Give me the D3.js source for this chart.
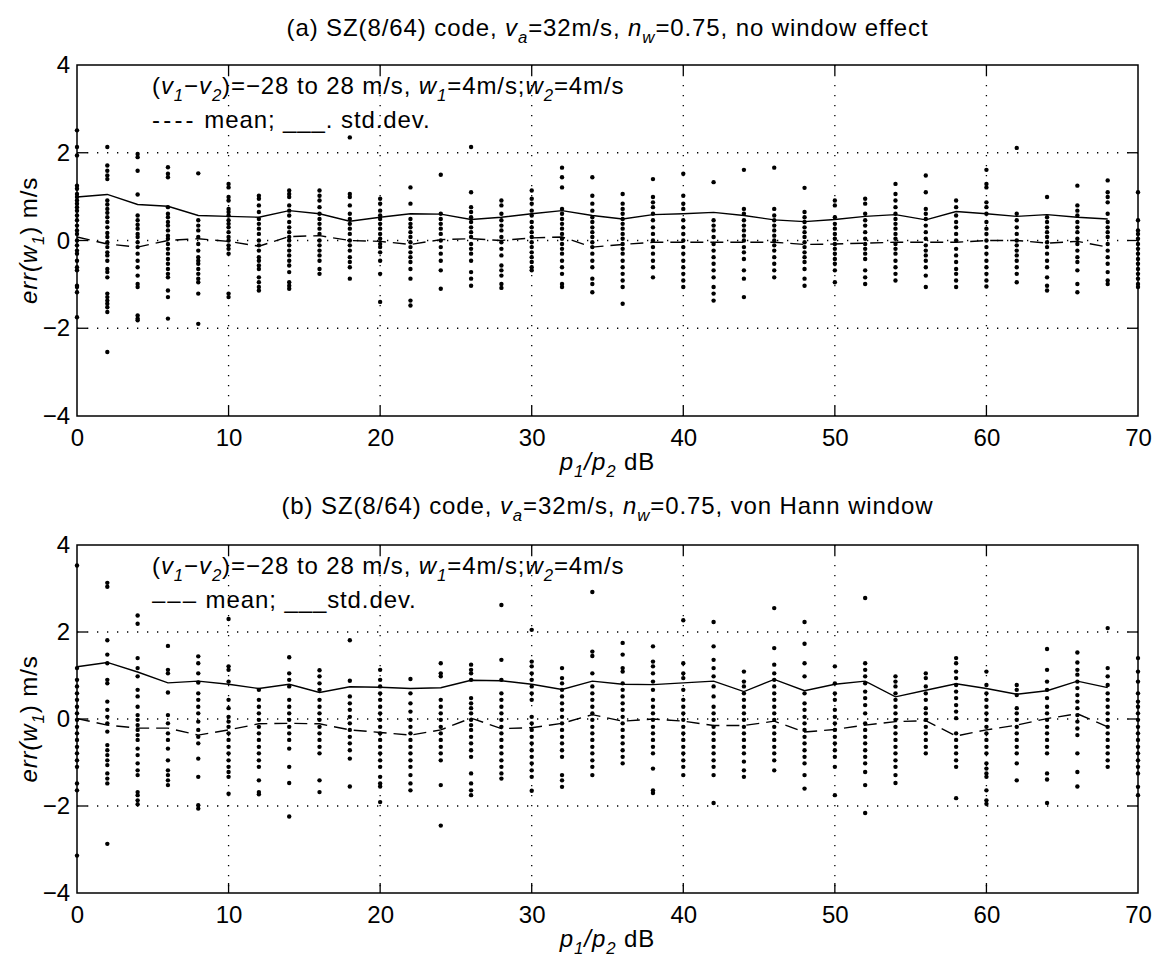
<!DOCTYPE html>
<html>
<head>
<meta charset="utf-8">
<script src="https://cdn.jsdelivr.net/npm/d3@7/dist/d3.min.js"></script>
<style>
  body { margin: 0; background: #fff; }
  svg { font-family: "Liberation Sans", Arial, Helvetica, sans-serif; }
</style>
</head>
<body>
<script>
// p1/p2 (dB) positions of the columns
const xVals = [0, 2, 4, 6, 8, 10, 12, 14, 16, 18, 20, 22, 24, 26, 28, 30, 32, 34,
               36, 38, 40, 42, 44, 46, 48, 50, 52, 54, 56, 58, 60, 62, 64, 66, 68, 70];
const xTicks = [0, 10, 20, 30, 40, 50, 60, 70];
const yTicks = [-4, -2, 0, 2, 4];

// (a) no window effect: mean / std.dev. curves (0..68 dB)
const meanA = [0.08, -0.08, -0.15, 0, 0.04, -0.02, -0.13, 0.09, 0.11, 0, -0.02, -0.09, 0.02, 0.04,
               0, 0.06, 0.08, -0.15, -0.09, -0.04, -0.04, -0.04, -0.04, -0.04, -0.09,
               -0.08, -0.06, -0.04, -0.04, -0.04, 0, 0, -0.06, -0.02, -0.15];
const stdA = [0.99, 1.05, 0.82, 0.78, 0.57, 0.55, 0.53, 0.68, 0.61, 0.44, 0.53, 0.61, 0.6, 0.48,
              0.53, 0.61, 0.68, 0.57, 0.49, 0.59, 0.61, 0.64, 0.57, 0.47, 0.43,
              0.48, 0.55, 0.59, 0.47, 0.66, 0.61, 0.55, 0.59, 0.53, 0.49];

// (b) von Hann window: mean / std.dev. curves (0..68 dB)
const meanB = [0.01, -0.14, -0.21, -0.21, -0.37, -0.25, -0.11, -0.1, -0.11, -0.25, -0.31, -0.37, -0.25, 0.02,
               -0.22, -0.2, -0.1, 0.1, -0.05, 0, -0.05, -0.15, -0.15, -0.05, -0.3,
               -0.24, -0.14, -0.06, -0.04, -0.39, -0.25, -0.14, 0.01, 0.12, -0.18];
const stdB = [1.2, 1.3, 1.08, 0.83, 0.87, 0.8, 0.7, 0.8, 0.61, 0.74, 0.73, 0.7, 0.72, 0.89,
              0.88, 0.8, 0.68, 0.87, 0.8, 0.79, 0.83, 0.87, 0.63, 0.91, 0.65,
              0.8, 0.87, 0.51, 0.66, 0.81, 0.7, 0.57, 0.65, 0.87, 0.72];

// (a) individual err(w1) estimates, one list per column of xVals
const ptsA = [
  [2.51, 2.13, 1.94, 1.25, 1.18, 1.06, 0.99, 0.91, 0.84, 0.76, 0.68, 0.57, 0.46, 0.34, 0.23, 0.15, 0, -0.11, -0.23, -0.3, -0.46, -0.61, -0.68, -1.03, -1.06, -1.18, -1.75],
  [2.13, 1.71, 1.59, 1.48, 1.4, 0.91, 0.82, 0.72, 0.63, 0.53, 0.42, 0.3, 0.17, 0.08, -0.04, -0.15, -0.27, -0.34, -0.46, -0.65, -0.72, -0.84, -1.21, -1.29, -1.37, -1.44, -1.52, -1.63, -2.54],
  [1.97, 1.9, 1.59, 1.05, 0.57, 0.46, 0.36, 0.27, 0.15, 0.08, -0.04, -0.15, -0.3, -0.46, -0.61, -0.8, -0.99, -1.06, -1.71, -1.78, -1.82],
  [1.67, 1.52, 1.44, 0.76, 0.61, 0.53, 0.42, 0.34, 0.23, 0.11, 0.04, -0.08, -0.19, -0.3, -0.42, -0.53, -0.65, -0.76, -0.84, -1.14, -1.29, -1.78],
  [1.53, 0.46, 0.34, 0.23, 0.08, -0.08, -0.23, -0.38, -0.46, -0.53, -0.65, -0.76, -0.87, -0.95, -1.21, -1.9],
  [1.29, 1.21, 0.99, 0.91, 0.72, 0.65, 0.57, 0.46, 0.38, 0.3, 0.19, 0.08, 0, -0.11, -0.19, -0.3, -1.21, -1.29],
  [1.02, 0.95, 0.8, 0.65, 0.49, 0.38, 0.27, 0.15, 0, -0.11, -0.23, -0.38, -0.46, -0.57, -0.65, -0.84, -0.95, -1.06, -1.14],
  [1.14, 1.06, 0.99, 0.8, 0.68, 0.57, 0.42, 0.3, 0.19, 0.08, 0, -0.11, -0.23, -0.34, -0.46, -0.57, -0.72, -0.95, -1.03, -1.1],
  [1.14, 1.02, 0.91, 0.76, 0.61, 0.49, 0.38, 0.27, 0.15, 0, -0.11, -0.23, -0.34, -0.46, -0.65, -0.76],
  [2.35, 1.06, 0.99, 0.8, 0.61, 0.49, 0.38, 0.27, 0.15, 0, -0.11, -0.23, -0.38, -0.49, -0.61, -0.87],
  [0.95, 0.84, 0.68, 0.57, 0.49, 0.38, 0.27, 0.15, 0.04, -0.08, -0.15, -0.27, -0.46, -0.76, -1.4],
  [1.21, 0.84, 0.49, 0.38, 0.3, 0.19, 0.08, -0.04, -0.15, -0.27, -0.38, -0.49, -0.65, -0.87, -1.37, -1.48],
  [1.5, 0.61, 0.49, 0.38, 0.27, 0.15, 0, -0.15, -0.3, -0.46, -0.68, -1.1],
  [2.13, 1.1, 0.76, 0.65, 0.53, 0.42, 0.3, 0.19, 0.08, -0.08, -0.19, -0.3, -0.46, -0.72, -0.87, -1.03],
  [0.91, 0.8, 0.61, 0.46, 0.34, 0.23, 0.08, -0.04, -0.19, -0.34, -0.57, -0.68, -0.8, -0.99, -1.08],
  [1.14, 0.95, 0.84, 0.68, 0.57, 0.42, 0.3, 0.19, 0.08, -0.04, -0.15, -0.27, -0.38, -0.49, -0.61, -0.68],
  [1.66, 1.44, 1.21, 0.72, 0.61, 0.49, 0.38, 0.27, 0.15, 0.04, -0.08, -0.19, -0.3, -0.46, -0.61, -0.76, -0.99, -1.06],
  [1.44, 1.02, 0.84, 0.68, 0.53, 0.42, 0.3, 0.19, 0.08, -0.04, -0.15, -0.3, -0.46, -0.61, -0.87, -0.99, -1.18],
  [1.06, 0.84, 0.72, 0.61, 0.49, 0.38, 0.27, 0.15, 0.04, -0.08, -0.19, -0.3, -0.46, -0.61, -0.76, -0.91, -1.06, -1.44],
  [1.4, 0.99, 0.87, 0.76, 0.61, 0.46, 0.3, 0.15, 0, -0.15, -0.3, -0.46, -0.61, -0.84],
  [1.52, 1.02, 0.84, 0.72, 0.46, 0.3, 0.15, 0, -0.15, -0.3, -0.46, -0.61, -0.76, -0.91, -1.06],
  [1.33, 0.46, 0.34, 0.23, 0.08, -0.08, -0.23, -0.38, -0.53, -0.68, -0.84, -1.06, -1.21, -1.37],
  [1.61, 0.72, 0.61, 0.46, 0.34, 0.23, 0.11, 0, -0.15, -0.27, -0.42, -0.68, -0.87, -1.29],
  [1.66, 0.72, 0.57, 0.46, 0.34, 0.23, 0.11, 0, -0.11, -0.23, -0.38, -0.53, -0.68, -0.84],
  [1.2, 0.65, 0.53, 0.42, 0.3, 0.19, 0.08, -0.04, -0.15, -0.27, -0.38, -0.49, -0.65, -0.87, -1.03],
  [0.91, 0.8, 0.53, 0.38, 0.27, 0.15, 0.04, -0.08, -0.19, -0.3, -0.42, -0.53, -0.68, -0.95],
  [0.95, 0.84, 0.61, 0.46, 0.34, 0.19, 0.04, -0.08, -0.19, -0.3, -0.42, -0.68, -0.84, -0.99],
  [1.29, 1.06, 0.91, 0.76, 0.61, 0.49, 0.38, 0.27, 0.15, 0.04, -0.08, -0.19, -0.3, -0.46, -0.61, -0.76, -0.91],
  [1.48, 1.1, 0.72, 0.61, 0.49, 0.34, 0.19, 0.04, -0.11, -0.23, -0.34, -0.46, -0.61, -0.8, -1.06],
  [0.91, 0.76, 0.57, 0.42, 0.3, 0.15, 0, -0.19, -0.34, -0.49, -0.65, -0.76, -0.91, -1.06],
  [1.61, 1.29, 1.21, 0.87, 0.76, 0.61, 0.42, 0.27, 0.15, 0, -0.15, -0.3, -0.46, -0.61, -0.76, -0.91, -1.05],
  [2.11, 0.61, 0.46, 0.3, 0.15, 0, -0.11, -0.23, -0.34, -0.46, -0.61, -0.76, -0.95],
  [0.99, 0.53, 0.42, 0.3, 0.19, 0.08, -0.04, -0.15, -0.3, -0.46, -0.61, -0.84, -1.03, -1.14],
  [1.25, 0.8, 0.68, 0.57, 0.42, 0.3, 0.19, 0.04, -0.08, -0.23, -0.38, -0.49, -0.68, -0.99, -1.18],
  [1.37, 1.1, 0.99, 0.87, 0.61, 0.42, 0.3, 0.19, 0.08, -0.08, -0.23, -0.38, -0.53, -0.72, -0.91, -0.99],
  [1.1, 0.46, 0.23, 0.15, 0.04, -0.08, -0.19, -0.3, -0.42, -0.53, -0.65, -0.76, -0.87, -0.99, -1.06]
];

// (b) individual err(w1) estimates, one list per column of xVals
const ptsB = [
  [3.53, 1.17, 0.9, 0.75, 0.59, 0.44, 0.28, 0.13, -0.02, -0.18, -0.33, -0.48, -0.64, -0.79, -0.95, -1.1, -1.48, -1.64, -3.14],
  [3.13, 3.04, 1.81, 1.48, 1.28, 0.9, 0.82, 0.4, 0.21, 0.05, -0.1, -0.29, -0.6, -0.72, -0.83, -0.95, -1.06, -1.25, -1.37, -1.48, -2.87],
  [2.38, 2.19, 1.4, 1.17, 0.98, 0.67, 0.52, 0.28, 0.09, -0.02, -0.14, -0.25, -0.37, -0.48, -0.68, -0.83, -1.02, -1.18, -1.29, -1.68, -1.75, -1.87, -1.96],
  [1.68, 1.13, 1.05, 0.61, 0.09, -0.1, -0.33, -0.48, -0.68, -0.95, -1.18, -1.29, -1.41, -1.52],
  [1.44, 1.28, 1.05, 0.84, 0.59, 0.44, 0.28, 0.13, -0.06, -0.25, -0.41, -0.56, -0.91, -1.33, -1.98, -2.06],
  [2.3, 1.21, 1.13, 0.86, 0.44, 0.25, 0.05, -0.06, -0.18, -0.33, -0.48, -0.64, -0.79, -0.95, -1.1, -1.22, -1.33, -1.72],
  [0.67, 0.44, 0.28, 0.13, -0.02, -0.18, -0.33, -0.48, -0.64, -0.79, -0.95, -1.1, -1.41, -1.68, -1.73],
  [1.42, 1.05, 0.9, 0.75, 0.44, 0.28, 0.13, -0.02, -0.18, -0.33, -0.48, -0.68, -1.1, -1.47, -2.24],
  [1.12, 0.98, 0.82, 0.67, 0.44, 0.28, 0.13, -0.02, -0.18, -0.33, -0.48, -0.64, -0.79, -1.41, -1.68],
  [1.81, 0.88, 0.52, 0.36, 0.21, 0.05, -0.1, -0.25, -0.41, -0.56, -0.72, -0.91, -1.55],
  [1.13, 0.9, 0.75, 0.59, 0.44, 0.28, 0.13, -0.02, -0.18, -0.33, -0.48, -0.64, -0.79, -0.95, -1.1, -1.33, -1.48, -1.55, -1.91],
  [0.92, 0.59, 0.36, 0.17, -0.02, -0.18, -0.33, -0.48, -0.64, -0.79, -0.95, -1.1, -1.29, -1.48, -1.64],
  [1.28, 1.05, 0.98, 0.44, 0.28, 0.13, -0.02, -0.18, -0.33, -0.48, -0.64, -0.79, -0.95, -1.52, -2.45],
  [1.25, 1.13, 1.05, 0.9, 0.48, 0.36, 0.25, 0.13, -0.02, -0.14, -0.25, -0.41, -0.56, -0.72, -0.87, -1.25, -1.48, -1.64, -1.75],
  [2.62, 1.36, 0.9, 0.59, 0.44, 0.28, 0.13, -0.02, -0.18, -0.33, -0.48, -0.64, -0.79, -0.95, -1.1, -1.25, -1.37],
  [2.05, 1.32, 1.21, 1.05, 0.9, 0.75, 0.59, 0.44, 0.05, -0.1, -0.25, -0.41, -0.56, -0.72, -0.87, -1.02, -1.18, -1.33, -1.65],
  [1.17, 0.94, 0.82, 0.67, 0.52, 0.36, 0.21, 0.05, -0.1, -0.25, -0.41, -0.56, -0.72, -0.87, -1.29, -1.41, -1.56],
  [2.92, 1.55, 1.45, 1.05, 0.75, 0.59, 0.44, 0.28, 0.13, -0.02, -0.18, -0.33, -0.48, -0.64, -0.79, -0.95, -1.1, -1.29],
  [1.75, 1.48, 1.17, 1.09, 0.82, 0.67, 0.52, 0.36, 0.21, 0.05, -0.1, -0.25, -0.41, -0.56, -0.72, -0.87, -1.02],
  [1.67, 1.32, 1.21, 1.05, 0.86, 0.67, 0.44, 0.28, 0.13, -0.02, -0.18, -0.33, -0.48, -0.64, -0.79, -1.14, -1.64, -1.7],
  [2.27, 1.28, 1.05, 0.94, 0.67, 0.44, 0.28, 0.13, -0.02, -0.18, -0.33, -0.48, -0.64, -0.79, -0.95, -1.1, -1.29],
  [2.23, 1.67, 1.36, 1.17, 0.98, 0.75, 0.52, 0.28, 0.13, -0.02, -0.18, -0.33, -0.48, -0.64, -0.79, -0.95, -1.1, -1.29, -1.93],
  [1.09, 0.86, 0.75, 0.59, 0.44, 0.28, 0.13, -0.02, -0.18, -0.33, -0.48, -0.64, -0.79, -0.98, -1.18, -1.33],
  [2.55, 1.63, 1.25, 1.05, 0.9, 0.75, 0.59, 0.44, 0.28, 0.13, -0.02, -0.18, -0.33, -0.48, -0.64, -0.79, -0.95, -1.18],
  [2.23, 1.73, 1.28, 0.98, 0.59, 0.36, 0.21, 0.05, -0.1, -0.25, -0.41, -0.56, -0.72, -0.87, -1.02, -1.29, -1.6],
  [1.21, 0.82, 0.59, 0.44, 0.21, 0.05, -0.1, -0.25, -0.41, -0.56, -0.72, -0.87, -1.1, -1.75],
  [2.78, 1.28, 1.13, 0.98, 0.82, 0.63, 0.48, 0.32, 0.13, -0.1, -0.25, -0.41, -0.56, -0.72, -0.87, -1.02, -1.22, -1.52, -2.16],
  [0.98, 0.86, 0.75, 0.59, 0.44, 0.28, 0.13, -0.02, -0.18, -0.33, -0.48, -0.64, -0.79, -0.95, -1.1, -1.29, -1.47],
  [1.05, 0.94, 0.75, 0.59, 0.44, 0.25, 0.13, -0.02, -0.18, -0.33, -0.48, -0.64, -0.79],
  [1.4, 1.28, 1.09, 0.94, 0.78, 0.63, 0.48, 0.32, 0.17, 0.02, -0.33, -0.48, -0.64, -0.79, -0.95, -1.1, -1.82],
  [1.09, 0.78, 0.59, 0.44, 0.28, 0.13, -0.02, -0.18, -0.33, -0.48, -0.64, -0.79, -1.02, -1.14, -1.25, -1.33, -1.64, -1.87, -1.95],
  [0.78, 0.67, 0.55, 0.25, 0.13, -0.02, -0.18, -0.33, -0.48, -0.64, -0.79, -1.02, -1.41],
  [1.61, 1.13, 0.86, 0.67, 0.48, 0.28, 0.13, -0.02, -0.18, -0.33, -0.48, -0.64, -0.79, -1.25, -1.39, -1.93],
  [1.53, 1.3, 1.13, 1.02, 0.86, 0.71, 0.55, 0.4, 0.25, 0.09, -0.06, -0.22, -0.37, -0.79, -1.22, -1.55],
  [2.09, 1.17, 0.98, 0.78, 0.59, 0.44, 0.28, 0.13, -0.02, -0.18, -0.33, -0.48, -0.64, -0.79, -0.95, -1.1],
  [1.4, 1.09, 0.86, 0.59, 0.4, 0.28, 0.13, -0.02, -0.18, -0.33, -0.48, -0.64, -0.79, -0.95, -1.1, -1.25, -1.56, -1.75]
];

// text pieces: [text, flags, letter spacing]  flags: i = italic, s = subscript
const titleA = [["(a) SZ(8/64) code, "], ["v", "i"], ["a", "is"], ["=32m/s, "], ["n", "i"], ["w", "is"], ["=0.75, no window effect"]];
const titleB = [["(b) SZ(8/64) code, "], ["v", "i"], ["a", "is"], ["=32m/s, "], ["n", "i"], ["w", "is"], ["=0.75, von Hann window"]];
const noteLine1 = [["("], ["v", "i"], ["1", "is"], ["\u2212"], ["v", "i"], ["2", "is"], [")=\u221228 to 28 m/s, "],
                   ["w", "i"], ["1", "is"], ["=4m/s;"], ["w", "i"], ["2", "is"], ["=4m/s"]];
const noteLine2A = [["----", "", 3.2], [" mean; ___. std.dev."]];
const noteLine2B = [["\u2013\u2013\u2013", "", 2], [" mean; ___std.dev."]];
const xLabel = [["p", "i"], ["1", "is"], ["/", "i"], ["p", "i"], ["2", "is"], [" dB"]];
const yLabel = [["err(w", "i"], ["1", "is"], [") m/s"]];

const width = 1154, height = 968;
const fs = 24;       // label font size
const ls = 0.9;      // letter spacing of the scanned lettering

const svg = d3.select("body").append("svg")
    .attr("width", width)
    .attr("height", height);

const x = d3.scaleLinear().domain([0, 70]).range([77, 1138]);

// write a text made of pieces, with italic and subscript parts
function rich(textSel, pieces, size) {
    let shift = 0;
    textSel.attr("font-size", size).attr("letter-spacing", ls);
    pieces.forEach(p => {
        const flags = p[1] || "";
        const ts = textSel.append("tspan").text(p[0]);
        const want = flags.includes("s") ? size * 0.3 : 0;
        if (want !== shift) { ts.attr("dy", want - shift); shift = want; }
        if (flags.includes("i")) ts.attr("font-style", "italic");
        if (flags.includes("s")) ts.attr("font-size", size * 0.7);
        if (p[2] !== undefined) ts.attr("letter-spacing", p[2]);
    });
    return textSel;
}

function drawPanel(cfg) {
    const y = d3.scaleLinear().domain([-4, 4]).range([cfg.bottom, cfg.top]);
    const g = svg.append("g");
    const [x0, x1] = x.range();

    // title
    rich(g.append("text")
        .attr("x", (x0 + x1) / 2)
        .attr("y", cfg.titleY)
        .attr("text-anchor", "middle"), cfg.title, fs);

    // dotted grid
    const grid = g.append("g")
        .attr("stroke", "#000")
        .attr("stroke-width", 1.3)
        .attr("stroke-dasharray", "1.3,8.7");
    grid.selectAll("line.gx")
        .data(xTicks.slice(1, -1))
        .enter().append("line")
        .attr("x1", d => x(d)).attr("x2", d => x(d))
        .attr("y1", cfg.top).attr("y2", cfg.bottom);
    grid.selectAll("line.gy")
        .data(yTicks.slice(1, -1))
        .enter().append("line")
        .attr("x1", x0).attr("x2", x1)
        .attr("y1", d => y(d)).attr("y2", d => y(d));

    // scatter of single estimates
    const flat = [];
    cfg.pts.forEach((col, i) => col.forEach(v => flat.push([xVals[i], v])));
    g.append("g").selectAll("circle")
        .data(flat)
        .enter().append("circle")
        .attr("cx", d => x(d[0]))
        .attr("cy", d => y(d[1]))
        .attr("r", 2.2)
        .attr("fill", "#000");

    // std.dev. (solid) and mean (dashed)
    const line = d3.line().x((d, i) => x(xVals[i])).y(d => y(d));
    g.append("path")
        .attr("d", line(cfg.std))
        .attr("fill", "none")
        .attr("stroke", "#000")
        .attr("stroke-width", 1.4);
    g.append("path")
        .attr("d", line(cfg.mean))
        .attr("fill", "none")
        .attr("stroke", "#000")
        .attr("stroke-width", 1.4)
        .attr("stroke-dasharray", "13,7");

    // axes with inward ticks on all four sides
    const tick = 10;
    const axisX = d3.axisBottom(x).tickValues(xTicks).tickSize(0).tickPadding(13);
    const axisY = d3.axisLeft(y).tickValues(yTicks).tickSize(0).tickPadding(7)
        .tickFormat(d => d < 0 ? "\u2212" + Math.abs(d) : d);
    g.append("g")
        .attr("transform", `translate(0,${cfg.bottom})`)
        .call(axisX)
        .call(a => a.select(".domain").remove())
        .call(a => a.selectAll("text").attr("font-size", fs).attr("font-family", null).attr("fill", "#000"));
    g.append("g")
        .attr("transform", `translate(${x0},0)`)
        .call(axisY)
        .call(a => a.select(".domain").remove())
        .call(a => a.selectAll("text").attr("font-size", fs).attr("font-family", null).attr("fill", "#000"));

    const ticks = g.append("g").attr("stroke", "#000").attr("stroke-width", 1.3);
    xTicks.slice(1, -1).forEach(t => {
        ticks.append("line").attr("x1", x(t)).attr("x2", x(t)).attr("y1", cfg.bottom).attr("y2", cfg.bottom - tick);
        ticks.append("line").attr("x1", x(t)).attr("x2", x(t)).attr("y1", cfg.top).attr("y2", cfg.top + tick);
    });
    yTicks.slice(1, -1).forEach(t => {
        ticks.append("line").attr("x1", x0).attr("x2", x0 + tick).attr("y1", y(t)).attr("y2", y(t));
        ticks.append("line").attr("x1", x1).attr("x2", x1 - tick).attr("y1", y(t)).attr("y2", y(t));
    });

    g.append("rect")
        .attr("x", x0).attr("y", cfg.top)
        .attr("width", x1 - x0).attr("height", cfg.bottom - cfg.top)
        .attr("fill", "none")
        .attr("stroke", "#000")
        .attr("stroke-width", 1.5);

    // note inside the axes
    rich(g.append("text").attr("x", 152).attr("y", cfg.top + 29), noteLine1, fs);
    rich(g.append("text").attr("x", 152).attr("y", cfg.top + 63), cfg.note2, fs);

    // axis labels
    rich(g.append("text")
        .attr("x", (x0 + x1) / 2)
        .attr("y", cfg.bottom + 54)
        .attr("text-anchor", "middle"), xLabel, fs);
    rich(g.append("text")
        .attr("transform", `translate(37,${(cfg.top + cfg.bottom) / 2}) rotate(-90)`)
        .attr("text-anchor", "middle"), yLabel, fs);
}

drawPanel({ top: 65, bottom: 416, titleY: 36, title: titleA, pts: ptsA, mean: meanA, std: stdA, note2: noteLine2A });
drawPanel({ top: 545, bottom: 893, titleY: 514, title: titleB, pts: ptsB, mean: meanB, std: stdB, note2: noteLine2B });
</script>
</body>
</html>
